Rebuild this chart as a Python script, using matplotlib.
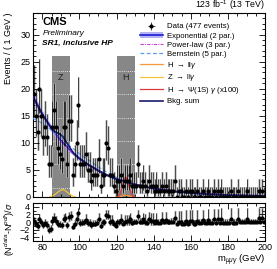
import numpy as np
import matplotlib
matplotlib.use("Agg")
import matplotlib.pyplot as plt
from matplotlib.lines import Line2D
from matplotlib.patches import Patch, Rectangle
from matplotlib.ticker import MultipleLocator

plt.rcParams['font.family'] = ['Liberation Sans', 'DejaVu Sans']
plt.rcParams['mathtext.fontset'] = 'custom'
plt.rcParams['mathtext.rm'] = 'Liberation Sans'
plt.rcParams['mathtext.it'] = 'Liberation Sans:italic'

# 1 GeV bins, lower edges 75..199
bin_lo = np.arange(75, 200)
counts = [19, 15, 12, 20, 15, 11, 13, 11, 6, 6,
          13, 16, 13, 9, 8, 7, 13, 13, 6, 14,
          14, 4, 6, 10, 17, 6, 6, 6, 8, 5,
          5, 3, 4, 4, 4, 7, 2, 4, 4, 10,
          9, 4, 4, 2, 1, 3, 3, 4, 2, 3,
          3, 3, 4, 2, 2, 2, 6, 2, 2, 3,
          2, 1, 3, 2, 2, 1, 2, 1, 1, 2,
          1, 2, 1, 1, 1, 1, 3, 0, 1, 1,
          0, 0, 1, 0, 1, 1, 0, 0, 1, 0,
          0, 1, 0, 0, 1, 0, 0, 1, 0, 1,
          0, 1, 0, 0, 0, 0, 1, 0, 0, 0,
          1, 0, 0, 0, 0, 1, 0, 0, 0, 0,
          0, 1, 0, 1, 0]

# pulls (N_data - N_pdf)/sigma read per bin
pulls = [0.2, -0.5, -1.1, 0.9, -0.1, -0.9, -0.3, -0.7, -2.1, -1.9,
         0.2, 1.0, 0.4, -0.5, -0.7, -0.9, 0.9, 1.0, -0.9, 1.4,
         1.5, -1.3, -0.5, 0.8, 2.4, -0.3, -0.2, -0.1, 0.6, -0.3,
         -0.2, -0.9, -0.4, -0.4, -0.3, 0.9, -1.0, -0.1, -0.1, 1.9,
         1.7, 0.1, 0.2, -0.6, -1.0, -0.1, -0.1, 0.5, -0.4, 0.1,
         0.2, 0.2, 0.8, -0.2, -0.1, -0.1, 1.6, 0.0, 0.0, 0.7,
         0.1, -0.3, 0.8, 0.3, 0.3, -0.2, 0.4, -0.2, -0.2, 0.5,
         -0.1, 0.6, -0.1, -0.1, 0.0, 0.0, 1.2, -0.5, 0.1, 0.1,
         -0.5, -0.4, 0.3, -0.4, 0.3, 0.4, -0.4, -0.4, 0.4, -0.3,
         -0.3, 0.5, -0.3, -0.3, 0.6, -0.3, -0.2, 0.7, -0.2, 0.7,
         -0.2, 0.8, -0.2, -0.2, -0.2, -0.2, 0.8, -0.2, -0.2, -0.2,
         0.9, -0.1, -0.1, -0.1, -0.1, 0.9, -0.1, -0.1, -0.1, -0.1,
         -0.1, 1.0, -0.1, 1.0, -0.1]

# Garwood 68% poisson intervals, n = 0..20
pois_lo = [0, 0.827, 1.292, 1.633, 1.914, 2.159, 2.380, 2.581, 2.768, 2.943,
           3.108, 3.265, 3.414, 3.556, 3.693, 3.824, 3.950, 4.072, 4.190, 4.304, 4.415]
pois_hi = [1.841, 2.299, 2.637, 2.918, 3.162, 3.382, 3.583, 3.770, 3.944, 4.108,
           4.263, 4.410, 4.551, 4.686, 4.815, 4.940, 5.061, 5.178, 5.292, 5.402, 5.509]

# fitted curves
curve_x = [75, 80, 85, 90, 95, 100, 105, 110, 115, 120, 125, 130, 135, 140, 150, 160, 170, 180, 190, 200]
expo = [18.5, 15.3, 12.6, 10.4, 8.6, 7.1, 5.9, 4.9, 4.0, 3.3, 2.75, 2.3, 1.9, 1.55, 1.05, 0.72, 0.5, 0.34, 0.23, 0.16]
expo_err = [0.9, 0.75, 0.6, 0.5, 0.42, 0.36, 0.3, 0.26, 0.22, 0.19, 0.17, 0.15, 0.13, 0.12, 0.1, 0.08, 0.07, 0.06, 0.05, 0.05]
powlaw = [18.9, 15.4, 12.6, 10.3, 8.5, 7.0, 5.85, 4.9, 4.1, 3.4, 2.85, 2.4, 2.0, 1.7, 1.2, 0.85, 0.62, 0.45, 0.34, 0.26]
bern = [14.5, 13.6, 12.3, 10.9, 9.4, 8.0, 6.8, 5.6, 4.5, 3.6, 2.9, 2.3, 1.85, 1.5, 1.0, 0.68, 0.5, 0.4, 0.34, 0.3]

bkg_x = [75, 80, 85, 87, 89, 91, 93, 95, 97, 100, 105, 110, 115, 120, 122, 124, 125, 126, 128, 130,
         135, 140, 150, 160, 170, 180, 190, 200]
bkg_sum = [18.5, 15.3, 12.65, 12.0, 11.7, 11.2, 10.15, 9.05, 8.0, 7.1, 5.9, 4.9, 4.0, 3.3, 3.1, 2.95,
           2.95, 2.8, 2.45, 2.3, 1.9, 1.55, 1.05, 0.72, 0.5, 0.34, 0.23, 0.16]

zllg_x = [84, 86, 88, 89, 90, 91, 92, 93, 94, 96, 98]
zllg_y = [0, 0.25, 0.75, 1.05, 1.25, 1.35, 1.25, 1.0, 0.7, 0.2, 0]
hllg_x = [121, 122, 123, 124, 125, 126, 127, 128, 129]
hllg_y = [0, 0.05, 0.15, 0.28, 0.32, 0.25, 0.12, 0.04, 0]
hpsi_x = [120, 121, 122, 123, 124, 125, 126, 127, 128, 129, 130]
hpsi_y = [0, 0.1, 0.6, 1.8, 3.2, 3.7, 3.0, 1.6, 0.5, 0.1, 0]

windows = [(85, 95, "Z"), (120, 130, "H")]

c_expo = "#1c1cd6"
c_band = "#b4b4f0"
c_pow = "#d040d0"
c_bern = "#5a9ae8"
c_hllg = "#f39a3c"
c_zllg = "#f3c43c"
c_hpsi = "#d83a3a"
c_sum = "#1a1a70"

counts = np.array(counts)
xc = bin_lo + 0.5
elo = np.array([pois_lo[n] for n in counts])
ehi = np.array([pois_hi[n] for n in counts])
pulls = np.array(pulls)
# pull error bars in units of sigma
p_lo = np.where(pulls > 0, 1.0, elo / ehi)
p_hi = np.where(pulls > 0, ehi / np.maximum(elo, 1e-9), 1.0)

fig = plt.figure(figsize=(2.77, 2.69), dpi=100)
ax = fig.add_axes([0.119, 0.268, 0.838, 0.684])
rx = fig.add_axes([0.119, 0.104, 0.838, 0.141], sharex=ax)

# shaded mass windows
for lo, hi, lab in windows:
    ax.fill_between([lo, hi], 0, 26, color="#878787", lw=0, zorder=0)
    for lev in [1.7, 6.0, 10.3, 14.6, 19.0, 23.3]:
        ax.plot([lo, hi], [lev, lev], color="white", lw=0.6, ls=(0, (1, 1.5)), zorder=0.5)
    ax.text((lo + hi) / 2, 22, lab, ha="center", va="center", fontsize=6.5, color="#222222", zorder=1)

# grey boxes over the error ranges
for x0, n, a, b in zip(bin_lo, counts, elo, ehi):
    ax.add_patch(Rectangle((x0, n - a), 1, a + b, fill=False, ec="#bdbdbd", lw=0.45, zorder=1))
for x0, p, a, b in zip(bin_lo, pulls, p_lo, p_hi):
    rx.add_patch(Rectangle((x0, p - a), 1, a + b, fill=False, ec="#bdbdbd", lw=0.45, zorder=1))

# curves
ax.fill_between(curve_x, np.array(expo) - np.array(expo_err), np.array(expo) + np.array(expo_err),
                color=c_band, lw=0, zorder=2)
ax.plot(curve_x, expo, color=c_expo, lw=1.2, zorder=3)
ax.plot(curve_x, powlaw, color=c_pow, lw=0.8, ls=(0, (3, 1, 1, 1)), zorder=3)
ax.plot(curve_x, bern, color=c_bern, lw=0.9, ls=(0, (3, 2)), zorder=3)
ax.plot(hllg_x, hllg_y, color=c_hllg, lw=0.9, zorder=3)
ax.plot(zllg_x, zllg_y, color=c_zllg, lw=0.9, zorder=3)
ax.plot(hpsi_x, hpsi_y, color=c_hpsi, lw=0.9, zorder=3)
ax.plot(bkg_x, bkg_sum, color=c_sum, lw=1.2, zorder=3.5)

# data
ax.errorbar(xc, counts, yerr=[elo, ehi], xerr=0.5, fmt="o", color="black", ms=2.0,
            lw=0.5, capsize=0, zorder=5)
rx.errorbar(xc, pulls, yerr=[p_lo, p_hi], xerr=0.5, fmt="o", color="black", ms=2.0,
            lw=0.5, capsize=0, zorder=5)

ax.set_xlim(75, 200)
ax.set_ylim(0, 34)
rx.set_ylim(-5, 5)

for a in (ax, rx):
    a.tick_params(which="both", direction="in", top=True, right=True, labelsize=6.5,
                  width=0.6, pad=2)
    a.tick_params(which="major", length=4)
    a.tick_params(which="minor", length=2)
    for s in a.spines.values():
        s.set_linewidth(0.8)
    a.xaxis.set_major_locator(MultipleLocator(20))
    a.xaxis.set_minor_locator(MultipleLocator(5))
ax.yaxis.set_major_locator(MultipleLocator(5))
ax.yaxis.set_minor_locator(MultipleLocator(1))
rx.yaxis.set_major_locator(MultipleLocator(2))
rx.yaxis.set_minor_locator(MultipleLocator(1))
rx.tick_params(axis="x", pad=1.5)
plt.setp(ax.get_xticklabels(), visible=False)

ax.set_ylabel("Events / ( 1 GeV )", fontsize=6.5, loc="top", labelpad=5)
fig.text(0.036, 0.15, r"(N$^{data}$-N$^{pdf}$)/$\sigma$", rotation=90, fontsize=6.5,
         ha="center", va="center")
fig.text(0.957, 0.002, r"m$_{\mu\mu\gamma}$ (GeV)", fontsize=6.8, ha="right", va="bottom")

ax.text(0.04, 0.95, "CMS", transform=ax.transAxes, fontsize=8, fontweight="bold", va="center")
ax.text(0.04, 0.89, "Preliminary", transform=ax.transAxes, fontsize=6, style="italic", va="center")
ax.text(0.04, 0.835, "SR1, inclusive HP", transform=ax.transAxes, fontsize=6, style="italic",
        fontweight="bold", va="center")
ax.text(1.0, 1.004, r"123 fb$^{-1}$ (13 TeV)", transform=ax.transAxes, fontsize=6.3,
        ha="right", va="bottom")

# legend
h_data = ax.errorbar([], [], yerr=[], xerr=[], fmt="o", color="black", ms=2.0, lw=0.5)
handles = [
    h_data,
    (Patch(color=c_band, lw=0), Line2D([], [], color=c_expo, lw=1.2)),
    Line2D([], [], color=c_pow, lw=0.8, ls=(0, (3, 1, 1, 1))),
    Line2D([], [], color=c_bern, lw=0.9, ls=(0, (3, 2))),
    Line2D([], [], color=c_hllg, lw=0.9),
    Line2D([], [], color=c_zllg, lw=0.9),
    Line2D([], [], color=c_hpsi, lw=0.9),
    Line2D([], [], color=c_sum, lw=1.2),
]
labels = ["Data (477 events)", "Exponential (2 par.)", "Power-law (3 par.)", "Bernstein (5 par.)",
          r"H $\rightarrow$ ll$\gamma$", r"Z $\rightarrow$ ll$\gamma$",
          r"H $\rightarrow$ $\Psi$(1S) $\gamma$ (x100)", "Bkg. sum"]
ax.legend(handles, labels, loc="upper left", bbox_to_anchor=(0.46, 0.945), frameon=False,
          fontsize=5.6, handlelength=3.0, handletextpad=0.5, labelspacing=0.22, borderpad=0,
          borderaxespad=0)

fig.savefig("out.png", dpi=100)
